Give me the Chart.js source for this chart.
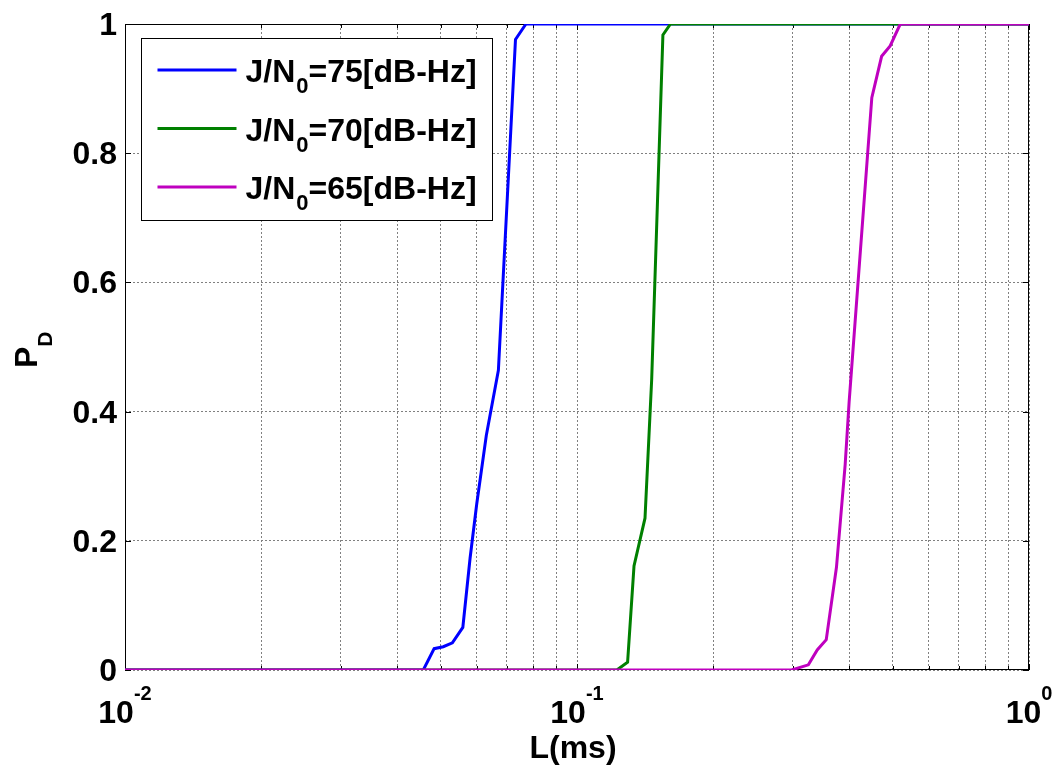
<!DOCTYPE html>
<html>
<head>
<meta charset="utf-8">
<script src="https://cdn.jsdelivr.net/npm/chart.js@4.4.0/dist/chart.umd.min.js"></script>
<style>
  html, body { margin: 0; padding: 0; background: #fff; }
  #wrap { width: 1056px; height: 766px; }
</style>
</head>
<body>
<div id="wrap"><canvas id="pd-chart"></canvas></div>
<script>
// J/N0 levels shown in the legend
const jnLevels = ['75', '70', '65'];

// detection probability vs integration length L (ms)
const lBlue  = [0.01, 0.0457, 0.0483, 0.0506, 0.053, 0.0559, 0.058, 0.060, 0.063, 0.067, 0.0731, 0.0771, 1];
const pdBlue = [0, 0, 0.033, 0.036, 0.042, 0.066, 0.173, 0.257, 0.363, 0.464, 0.976, 1, 1];

const lGreen  = [0.01, 0.1225, 0.1294, 0.1337, 0.1414, 0.1463, 0.1549, 0.161, 1];
const pdGreen = [0, 0, 0.012, 0.161, 0.235, 0.45, 0.983, 1, 1];

const lMagenta  = [0.01, 0.2985, 0.325, 0.340, 0.356, 0.375, 0.392, 0.4, 0.449, 0.472, 0.493, 0.519, 1];
const pdMagenta = [0, 0, 0.008, 0.031, 0.047, 0.159, 0.318, 0.415, 0.886, 0.95, 0.966, 1, 1];

// axis ticks
const xGridTicks = [0.01, 0.02, 0.03, 0.04, 0.05, 0.06, 0.07, 0.08, 0.09,
                    0.1, 0.2, 0.3, 0.4, 0.5, 0.6, 0.7, 0.8, 0.9, 1];
const xMajorTicks = [0.01, 0.1, 1];
const xMajorExps = ['-2', '-1', '0'];
const yTicks = [0, 0.2, 0.4, 0.6, 0.8, 1];
const yTickLabels = ['0', '0.2', '0.4', '0.6', '0.8', '1'];

const colors = ['#0000ff', '#008000', '#bf00bf'];
const FONT = '"Liberation Sans", Arial, sans-serif';

const toPoints = (xs, ys) => xs.map((v, i) => ({ x: v, y: ys[i] }));

const ctx = document.getElementById('pd-chart');

// MATLAB-ish box, inward ticks, labels with super/subscripts and legend
const matlabAxes = {
    id: 'matlabAxes',
    beforeDatasetsDraw(chart) {
        const { ctx, chartArea: a, scales: { x, y } } = chart;
        ctx.save();
        ctx.strokeStyle = '#000';
        ctx.lineWidth = 1;
        ctx.strokeRect(a.left + 0.5, a.top + 0.5, a.right - a.left - 1, a.bottom - a.top - 1);
        ctx.beginPath();
        xGridTicks.forEach(v => {
            const px = Math.round(x.getPixelForValue(v)) + 0.5;
            const len = xMajorTicks.includes(v) ? 6 : 4;
            ctx.moveTo(px, a.bottom); ctx.lineTo(px, a.bottom - len);
            ctx.moveTo(px, a.top); ctx.lineTo(px, a.top + len);
        });
        yTicks.forEach(v => {
            const py = Math.round(y.getPixelForValue(v)) + 0.5;
            ctx.moveTo(a.left, py); ctx.lineTo(a.left + 6, py);
            ctx.moveTo(a.right, py); ctx.lineTo(a.right - 6, py);
        });
        ctx.stroke();
        ctx.restore();
    },
    afterDraw(chart) {
        const { ctx, chartArea: a, scales: { x, y } } = chart;
        ctx.save();
        ctx.fillStyle = '#000';
        ctx.textBaseline = 'alphabetic';

        // y tick labels
        ctx.font = 'bold 32px ' + FONT;
        ctx.textAlign = 'right';
        yTicks.forEach((v, i) => {
            ctx.fillText(yTickLabels[i], a.left - 8, y.getPixelForValue(v) + 11);
        });

        // x tick labels: 10^n
        ctx.textAlign = 'left';
        xMajorTicks.forEach((v, i) => {
            ctx.font = 'bold 32px ' + FONT;
            const wBase = ctx.measureText('10').width;
            ctx.font = 'bold 20px ' + FONT;
            const wExp = ctx.measureText(xMajorExps[i]).width;
            const x0 = x.getPixelForValue(v) - (wBase + wExp) / 2;
            ctx.font = 'bold 32px ' + FONT;
            ctx.fillText('10', x0, a.bottom + 53);
            ctx.font = 'bold 20px ' + FONT;
            ctx.fillText(xMajorExps[i], x0 + wBase, a.bottom + 30);
        });

        // x title
        ctx.font = 'bold 32px ' + FONT;
        ctx.textAlign = 'center';
        ctx.fillText('L(ms)', (a.left + a.right) / 2 - 4, a.bottom + 88);

        // y title P_D
        ctx.save();
        ctx.translate(37, (a.top + a.bottom) / 2 + 21);
        ctx.rotate(-Math.PI / 2);
        ctx.textAlign = 'left';
        ctx.font = 'bold 32px ' + FONT;
        const wP = ctx.measureText('P').width;
        ctx.fillText('P', 0, 0);
        ctx.font = 'bold 21px ' + FONT;
        ctx.fillText('D', wP, 15);
        ctx.restore();

        // legend
        const lx = a.left + 16.5, ly = a.top + 14.5, lw = 351, lh = 182;
        ctx.fillStyle = '#fff';
        ctx.fillRect(lx, ly, lw, lh);
        ctx.strokeStyle = '#000';
        ctx.lineWidth = 1;
        ctx.strokeRect(lx, ly, lw, lh);
        chart.data.datasets.forEach((ds, i) => {
            const rowY = ly + 31.5 + i * 58.5;
            ctx.strokeStyle = ds.borderColor;
            ctx.lineWidth = 3;
            ctx.beginPath();
            ctx.moveTo(lx + 16, rowY);
            ctx.lineTo(lx + 95, rowY);
            ctx.stroke();
            ctx.fillStyle = '#000';
            ctx.textAlign = 'left';
            let tx = lx + 104;
            const base = rowY + 12;
            ctx.font = 'bold 32px ' + FONT;
            ctx.fillText('J/N', tx, base);
            tx += ctx.measureText('J/N').width + 1;
            ctx.font = 'bold 22px ' + FONT;
            ctx.fillText('0', tx, base + 11);
            tx += ctx.measureText('0').width;
            ctx.font = 'bold 32px ' + FONT;
            ctx.fillText('=' + jnLevels[i] + '[dB-Hz]', tx, base);
        });
        ctx.restore();
    }
};

const lineStyle = {
    borderWidth: 3,
    pointRadius: 0,
    tension: 0,
    fill: false
};

const myChart = new Chart(ctx, {
    type: 'line',
    data: {
        datasets: [{
            label: 'J/N0=' + jnLevels[0] + '[dB-Hz]',
            data: toPoints(lBlue, pdBlue),
            borderColor: colors[0],
            order: 3,
            ...lineStyle
        }, {
            label: 'J/N0=' + jnLevels[1] + '[dB-Hz]',
            data: toPoints(lGreen, pdGreen),
            borderColor: colors[1],
            order: 2,
            ...lineStyle
        }, {
            label: 'J/N0=' + jnLevels[2] + '[dB-Hz]',
            data: toPoints(lMagenta, pdMagenta),
            borderColor: colors[2],
            order: 1,
            ...lineStyle
        }]
    },
    options: {
        responsive: true,
        maintainAspectRatio: false,
        animation: false,
        events: [],
        layout: {
            padding: { left: 125, right: 27, top: 24, bottom: 96 }
        },
        plugins: {
            legend: { display: false },
            tooltip: { enabled: false }
        },
        scales: {
            x: {
                type: 'logarithmic',
                min: 0.01,
                max: 1,
                afterBuildTicks: (scale) => {
                    scale.ticks = xGridTicks.map(v => ({ value: v }));
                },
                ticks: { display: false },
                grid: { color: '#808080', lineWidth: 1, drawTicks: false },
                border: { display: false, dash: [2, 2] }
            },
            y: {
                min: 0,
                max: 1,
                afterBuildTicks: (scale) => {
                    scale.ticks = yTicks.map(v => ({ value: v }));
                },
                ticks: { display: false },
                grid: { color: '#808080', lineWidth: 1, drawTicks: false },
                border: { display: false, dash: [2, 2] }
            }
        }
    },
    plugins: [matlabAxes]
});
</script>
</body>
</html>
